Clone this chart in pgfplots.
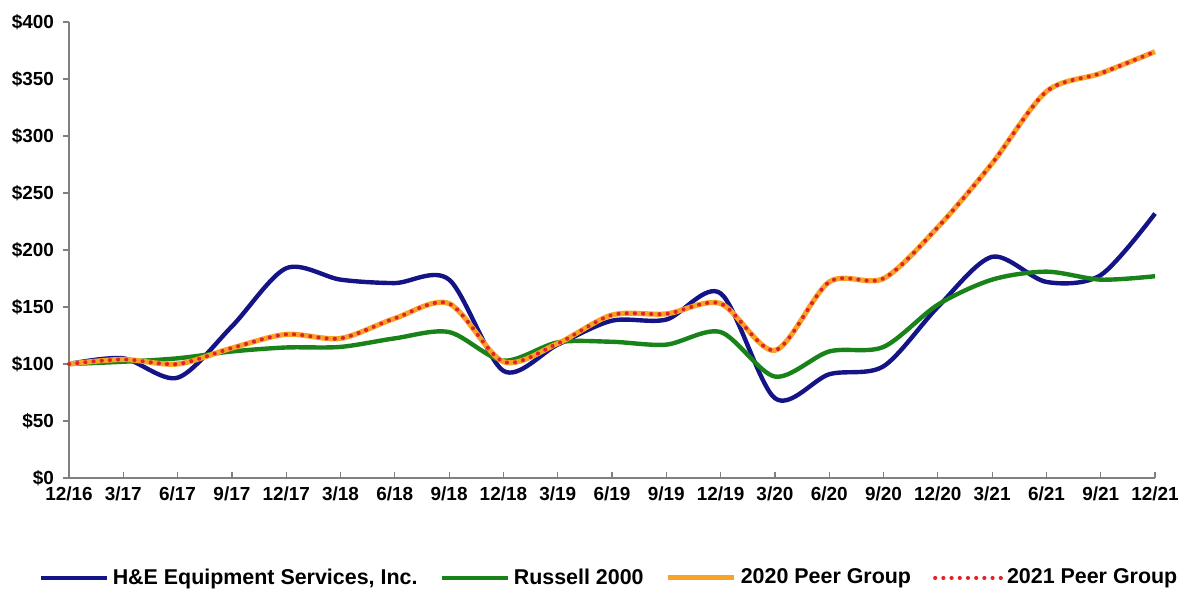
\documentclass[border=0pt]{standalone}
\usepackage{pgfplots}
\usepackage{pgfplotstable}
\pgfplotsset{compat=1.18}
\usepackage{fontspec}
\setmainfont{Liberation Sans}
\definecolor{heblue}{RGB}{20,20,135}
\definecolor{rgreen}{RGB}{25,130,25}
\definecolor{peerorange}{RGB}{247,163,40}
\definecolor{peerred}{RGB}{225,35,40}
\definecolor{axgray}{RGB}{128,128,128}
\pgfplotstableread{
x he rus peer
0 100 100 100
1 105 102 104
2 88 105 100
3 133 111 114
4 184 114.5 126
5 174 115 122.5
6 171 122.5 140
7 174 128 153
8 94 103 102
9 117 119 118
10 138 119.5 143
11 139 117 144
12 162 128 153
13 70 89 112
14 91 111 172
15 98 115 175
16 150 152 220
17 194 174 276
18 172 181 339
19 178 174 355
20 232 177 374
}\datatable
\begin{document}
\begin{tikzpicture}[x=1bp,y=1bp]
\path[use as bounding box] (0,0) rectangle (590.5,295.5);
\begin{axis}[
  at={(34.5bp,56.5bp)}, anchor=south west,
  width=543bp, height=228bp, scale only axis,
  xmin=0, xmax=20, ymin=0, ymax=400,
  axis x line*=bottom, axis y line*=left,
  axis line style={draw=axgray, line width=0.6bp},
  tick style={draw=axgray, line width=0.6bp},
  major tick length=3bp,
  xtick align=inside, ytick align=outside,
  xtick={0,...,20},
  xticklabels={12/16,3/17,6/17,9/17,12/17,3/18,6/18,9/18,12/18,3/19,6/19,9/19,12/19,3/20,6/20,9/20,12/20,3/21,6/21,9/21,12/21},
  ytick={0,50,...,400},
  yticklabels={\$0,\$50,\$100,\$150,\$200,\$250,\$300,\$350,\$400},
  ticklabel style={font=\bfseries\fontsize{9.5}{11}\selectfont},
  xticklabel style={yshift=-1bp},
  yticklabel style={xshift=-1bp},
  legend columns=4,
  legend style={draw=none, fill=none, at={(0.498,-0.219)}, anchor=center,
    font=\bfseries\fontsize{10.75}{12}\selectfont,
    /tikz/every even column/.append style={column sep=9bp},
    inner sep=0pt},
  legend image code/.code={\draw[#1] (0bp,0bp) -- (33bp,0bp);},
  legend cell align=left,
  clip=false,
]
\addplot[heblue, line width=2.2bp, smooth, tension=0.5] table[x=x,y=he]{\datatable};
\addlegendentry{H\&E Equipment Services, Inc.}
\addplot[rgreen, line width=2.2bp, smooth, tension=0.5] table[x=x,y=rus]{\datatable};
\addlegendentry{Russell 2000}
\addplot[peerorange, line width=2.6bp, smooth, tension=0.5] table[x=x,y=peer]{\datatable};
\addlegendentry{2020 Peer Group}
\addplot[peerred, line width=2bp, line cap=round, dash pattern=on 0.1bp off 4bp, smooth, tension=0.5] table[x=x,y=peer]{\datatable};
\addlegendentry{2021 Peer Group}
\end{axis}
\end{tikzpicture}
\end{document}
